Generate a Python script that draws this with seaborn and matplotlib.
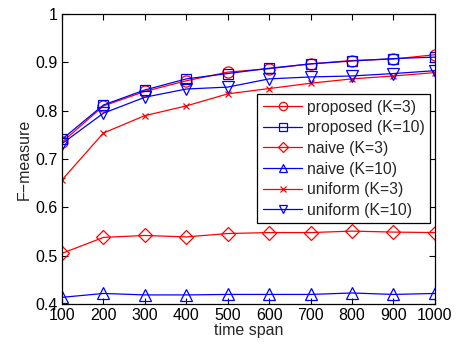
import matplotlib
matplotlib.use("Agg")
import matplotlib.pyplot as plt
import seaborn as sns
import pandas as pd

time_span = [100, 200, 300, 400, 500, 600, 700, 800, 900, 1000]
proposed_k3 = [0.735, 0.810, 0.840, 0.862, 0.880, 0.887, 0.897, 0.904, 0.907, 0.916]
proposed_k10 = [0.741, 0.812, 0.843, 0.866, 0.877, 0.888, 0.897, 0.903, 0.908, 0.911]
naive_k3 = [0.505, 0.538, 0.542, 0.539, 0.546, 0.548, 0.548, 0.551, 0.549, 0.548]
naive_k10 = [0.414, 0.422, 0.419, 0.419, 0.420, 0.420, 0.420, 0.423, 0.420, 0.422]
uniform_k3 = [0.657, 0.754, 0.790, 0.810, 0.835, 0.846, 0.857, 0.866, 0.872, 0.879]
uniform_k10 = [0.732, 0.795, 0.828, 0.845, 0.849, 0.866, 0.870, 0.872, 0.877, 0.883]

series = [
    ("proposed (K=3)", proposed_k3, "red", "o", 8),
    ("proposed (K=10)", proposed_k10, "blue", "s", 7.5),
    ("naive (K=3)", naive_k3, "red", "D", 7),
    ("naive (K=10)", naive_k10, "blue", "^", 8),
    ("uniform (K=3)", uniform_k3, "red", "x", 5),
    ("uniform (K=10)", uniform_k10, "blue", "v", 8),
]

sns.set_style("ticks")
plt.rcParams['font.family'] = ['Liberation Sans', 'DejaVu Sans']

fig = plt.figure(figsize=(4.57, 3.44), dpi=100)
ax = fig.add_axes([0.1357, 0.116, 0.816, 0.843])

for name, vals, col, mk, ms in series:
    df = pd.DataFrame({"time span": time_span, "F-measure": vals})
    sns.lineplot(data=df, x="time span", y="F-measure", ax=ax, color=col,
                 marker=mk, markersize=ms, markerfacecolor='none',
                 markeredgecolor=col, markeredgewidth=0.9, linewidth=0.9,
                 label=name)

ax.set_xlim(100, 1000)
ax.set_ylim(0.4, 1.0)
ax.set_xticks(time_span)
ax.set_xticklabels([str(t) for t in time_span])
ax.set_yticks([0.4, 0.5, 0.6, 0.7, 0.8, 0.9, 1.0])
ax.set_yticklabels(["0.4", "0.5", "0.6", "0.7", "0.8", "0.9", "1"])
ax.tick_params(direction='in', top=True, right=True, labelsize=11.5,
               length=4, width=0.8, colors='black', pad=3)
for sp in ax.spines.values():
    sp.set_visible(True)
    sp.set_color('black')
    sp.set_linewidth(0.9)
ax.set_xlabel("time span", fontsize=11.5, labelpad=0)
ax.set_ylabel("F\u2212measure", fontsize=11.5, labelpad=3)

leg = ax.legend(loc='upper right', bbox_to_anchor=(0.987, 0.724),
                borderaxespad=0, fontsize=11.3, frameon=True, fancybox=False,
                edgecolor='black', framealpha=1, handlelength=2.5,
                labelspacing=0.36, borderpad=0.35, handletextpad=0.3,
                markerscale=0.75)
leg.get_frame().set_linewidth(0.9)

fig.savefig("out.png", dpi=100)
